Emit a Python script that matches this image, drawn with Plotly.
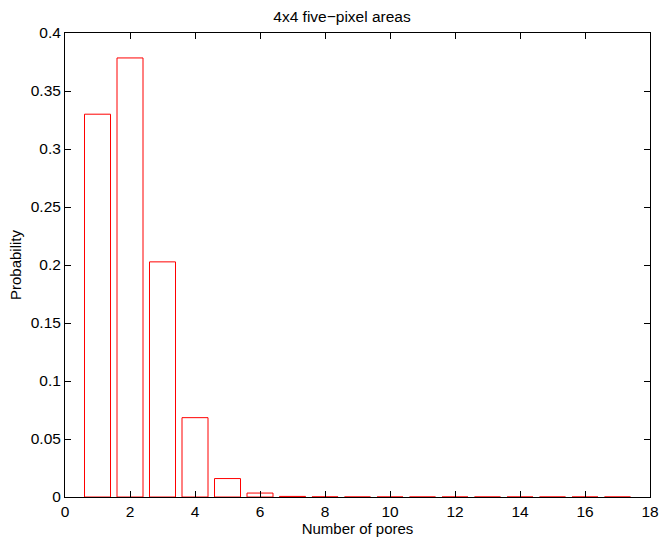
import plotly.graph_objects as go

pores = list(range(1, 18))
probability = [0.330, 0.3785, 0.2027, 0.0684, 0.0159, 0.0034, 0.0005, 0.0001,
               0, 0, 0, 0, 0, 0, 0, 0, 0]
x_ticks = [0, 2, 4, 6, 8, 10, 12, 14, 16, 18]
y_ticks = [0, 0.05, 0.1, 0.15, 0.2, 0.25, 0.3, 0.35, 0.4]
y_labels = ["0", "0.05", "0.1", "0.15", "0.2", "0.25", "0.3", "0.35", "0.4"]

FONT = "Liberation Sans, Arial, Helvetica, sans-serif"

fig = go.Figure(go.Bar(
    x=pores, y=probability, width=0.8,
    marker=dict(color="white", line=dict(color="red", width=1)),
    hoverinfo="skip",
))

axis_common = dict(showline=True, linecolor="black", linewidth=1, mirror="ticks",
                   ticks="inside", ticklen=6, tickcolor="black", showgrid=False,
                   zeroline=False, tickfont=dict(family=FONT, size=15.5, color="black"))

fig.update_layout(
    width=668, height=543,
    margin=dict(l=65, r=9, t=33, b=40),
    paper_bgcolor="white", plot_bgcolor="white",
    showlegend=False,
    font=dict(family=FONT, color="black"),
    title=dict(text="4x4 five\u2212pixel areas", xref="container", x=0.512, xanchor="center",
               yref="container", y=0.969, yanchor="middle", font=dict(size=15.5)),
    xaxis=dict(range=[0, 18], tickvals=x_ticks,
               title=dict(text="Number of pores", font=dict(size=15), standoff=4),
               **axis_common),
    yaxis=dict(range=[0, 0.4], tickvals=y_ticks, ticktext=y_labels,
               title=dict(text="Probability", font=dict(size=15), standoff=5),
               **axis_common),
)

fig.write_html(
    "out.html",
    config={"displayModeBar": False},
    post_script="document.body.style.margin='0';document.body.style.padding='0';"
                "document.documentElement.style.overflow='hidden';",
)
